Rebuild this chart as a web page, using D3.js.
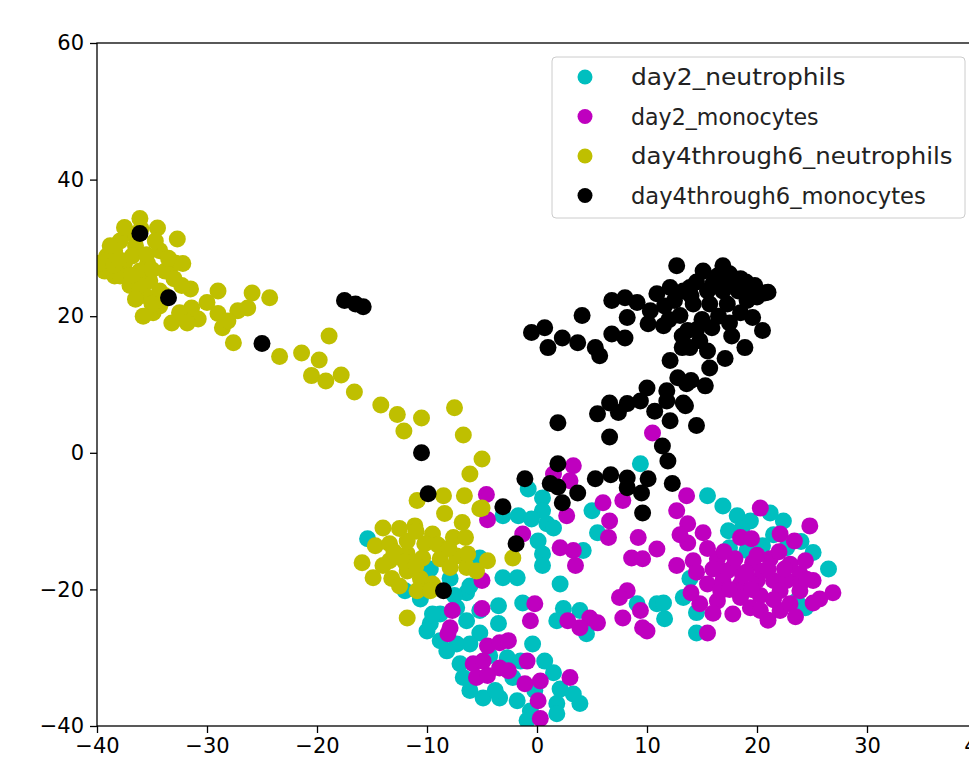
<!DOCTYPE html>
<html>
<head>
<meta charset="utf-8">
<script src="https://cdn.jsdelivr.net/npm/d3@7"></script>
<style>
  body { margin: 0; background: #fff; }
  text { font-family: "DejaVu Sans", sans-serif; }
</style>
</head>
<body>
<div id="chart"></div>
<script>
// series names, in legend / drawing order
const categories = ["day2_neutrophils", "day2_monocytes", "day4through6_neutrophils", "day4through6_monocytes"];

const xTicks = [-40, -30, -20, -10, 0, 10, 20, 30, 40];
const yTicks = [-40, -20, 0, 20, 40, 60];

// [x, y] points
const day2Neutrophils = [
  [-15.4,-12.6],[-9.7,-17.0],[-7.9,-18.4],[-5.2,-15.4],[-3.1,-18.3],[-10.6,-21.4],[-6.4,-20.5],[-3.5,-22.4],
  [-5.2,-23.1],[-7.3,-22.7],[-9.7,-25.0],[-8.8,-23.6],[-3.1,-9.2],[9.4,-1.6],[-0.8,-5.3],[0.5,-6.6],
  [0.5,-8.5],[-1.7,-9.2],[-0.5,-9.7],[0.9,-10.4],[1.5,-11.0],[0.1,-12.9],[0.5,-14.8],[0.5,-16.5],
  [5.0,-8.5],[5.5,-11.7],[4.2,-14.3],[2.1,-19.2],[-1.8,-18.3],[-1.3,-22.0],[-3.5,-25.0],[2.4,-22.8],
  [3.9,-23.1],[9.1,-22.1],[10.9,-22.1],[15.5,-6.3],[16.9,-7.8],[18.2,-9.2],[19.4,-10.0],[21.2,-8.8],
  [22.4,-10.0],[17.4,-11.4],[17.5,-13.9],[19.1,-14.3],[20.5,-13.6],[22.7,-13.9],[25.1,-14.6],[26.5,-17.0],
  [13.9,-18.4],[13.3,-21.2],[11.5,-22.0],[11.6,-24.3],[14.5,-23.4],[24.4,-22.7],[14.5,-26.4],[23.6,-21.7],
  [-9.5,-23.6],[-10.0,-26.1],[-6.4,-24.6],[-5.2,-26.4],[-8.8,-27.5],[-7.3,-28.0],[-6.1,-28.0],[-7.0,-30.9],
  [-6.7,-32.9],[-4.9,-35.9],[-3.4,-35.9],[-2.7,-30.0],[-2.2,-32.9],[-1.8,-36.3],[-0.6,-37.8],[-0.4,-28.0],
  [1.5,-32.2],[2.1,-34.6],[3.3,-35.3],[3.9,-36.7],[1.8,-36.7],[-0.9,-39.2],[1.8,-38.2],[4.5,-26.5],
  [1.8,-24.6],[-12.0,-20.2],[-7.5,-20.9],[-6.1,-19.5],[-8.2,-29.0],[-4.3,-29.7],[-1.5,-30.5],[0.7,-30.5],
  [-0.2,-34.8],[-3.8,-34.8],[-6.1,-34.8],[18.6,-11.2],[21.5,-12.0],[24.0,-13.0]
];

const day2Monocytes = [
  [-4.6,-6.1],[-4.5,-9.8],[-5.0,-18.7],[-7.7,-23.1],[-5.0,-22.8],[-7.9,-25.6],[3.3,-1.9],[3.0,-4.1],
  [1.5,-3.1],[2.7,-9.2],[6.0,-7.3],[7.8,-7.0],[6.6,-10.0],[6.5,-12.4],[9.2,-12.4],[-1.3,-11.9],
  [2.1,-13.9],[3.3,-14.3],[3.5,-16.5],[8.6,-15.4],[9.6,-15.5],[10.9,-14.1],[8.2,-20.2],[7.5,-21.2],
  [-0.2,-22.1],[-0.6,-24.6],[2.8,-24.6],[4.8,-24.2],[5.5,-24.9],[7.8,-24.2],[9.6,-25.6],[10.5,2.9],
  [13.6,-6.3],[12.7,-8.5],[13.7,-10.4],[15.1,-11.7],[13.7,-13.2],[20.3,-8.1],[18.5,-12.4],[19.5,-12.6],
  [22.1,-11.9],[24.8,-10.7],[12.7,-16.5],[14.2,-15.8],[16.4,-15.5],[17.8,-16.8],[19.6,-16.1],[21.2,-15.5],
  [23.0,-16.3],[23.9,-17.7],[15.5,-19.2],[16.9,-18.7],[18.5,-19.2],[20.0,-18.7],[21.5,-18.7],[22.7,-18.7],
  [25.1,-18.7],[26.9,-20.5],[25.7,-21.4],[14.8,-22.1],[16.4,-21.7],[17.8,-23.6],[19.4,-22.7],[20.3,-23.1],
  [22.1,-23.1],[23.0,-22.1],[25.1,-22.0],[15.5,-26.4],[10.0,-26.1],[9.4,-23.1],[17.3,-17.3],[18.7,-18.0],
  [20.5,-17.3],[22.1,-20.2],[20.3,-20.9],[18.5,-21.2],[16.7,-20.2],[23.9,-20.2],[23.4,-12.9],[24.4,-15.8],
  [-8.1,-26.5],[-4.5,-28.3],[-3.4,-27.8],[-2.6,-27.5],[-5.8,-30.9],[-4.9,-30.5],[-3.4,-31.5],[-2.6,-31.9],
  [-5.5,-32.9],[-4.5,-32.6],[-0.9,-30.5],[-1.1,-33.8],[0.3,-33.4],[3.0,-32.9],[0.1,-36.3],[0.3,-38.9],
  [3.9,-25.6],[14.5,-17.5],[16.0,-17.0],[19.0,-17.5],[21.0,-17.0],[22.5,-17.0],[24.0,-19.0],[17.5,-20.0],
  [19.5,-20.0],[21.5,-21.5],[24.5,-18.5],[15.5,-14.0],[17.0,-14.5],[14.0,-20.5],[16.0,-23.5],[13.0,-12.0],
  [21.0,-24.5],[23.5,-24.0],[18.0,-15.5],[20.0,-15.0],[22.0,-14.5]
];

const day4through6Neutrophils = [
  [-36.1,34.3],[-34.5,32.9],[-32.7,31.3],[-32.2,27.7],[-32.9,27.8],[-39.1,28.8],[-39.3,26.6],[-37.2,32.2],
  [-35.4,27.7],[-31.5,24.0],[-32.3,24.5],[-29.0,23.7],[-25.9,23.4],[-24.3,22.7],[-34.9,20.5],[-33.2,19.0],
  [-31.4,21.2],[-30.8,19.6],[-29.0,20.4],[-28.6,18.3],[-27.6,16.1],[-27.2,20.8],[-26.3,21.2],[-28.1,19.3],
  [-23.4,14.1],[-21.4,14.6],[-39.7,27.8],[-38.4,29.6],[-37.9,31.0],[-36.5,30.3],[-37.5,27.8],[-36.1,26.6],
  [-38.4,25.9],[-37.0,24.5],[-35.2,25.2],[-34.3,29.6],[-33.8,26.6],[-35.6,23.0],[-33.8,23.0],[-34.3,21.5],
  [-36.1,24.5],[-34.7,31.0],[-38.8,30.3],[-37.9,25.9],[-34.3,23.7],
  [-38.5,27.5],[-36.8,28.8],[-35.5,29.0],[-36.9,26.0],[-35.0,26.8],[-33.5,28.5],[-38.0,28.3],[-36.5,22.5],
  [-35.0,21.8],[-32.5,20.5],[-30.0,22.0],[-36.0,32.8],[-37.5,33.0],[-33.0,25.5],[-35.8,20.0],[-31.8,19.0],
  [-18.9,17.1],[-19.8,13.6],[-20.5,11.3],[-19.2,10.5],[-17.8,11.4],[-16.6,8.9],[-14.2,7.0],[-12.7,5.6],
  [-12.1,3.2],[-10.5,5.1],[-7.5,6.6],[-6.7,2.6],[-5.0,-0.9],[-6.1,-3.1],
  [-10.9,-7.0],[-8.5,-6.3],[-6.6,-6.3],[-5.2,-8.2],[-8.4,-8.9],[-6.8,-10.2],[-14.0,-11.0],[-12.5,-11.1],
  [-11.1,-10.7],[-9.5,-11.9],[-7.6,-12.4],[-6.5,-12.4],[-15.9,-16.1],[-14.7,-13.6],[-14.9,-18.3],[-13.2,-18.4],
  [-11.8,-17.3],[-10.6,-18.4],[-9.5,-19.2],[-8.8,-15.5],[-7.3,-15.1],[-6.4,-16.8],[-5.5,-17.3],[-4.5,-15.8],
  [-6.3,-14.8],[-13.4,-15.8],[-11.8,-14.8],[-10.4,-15.4],[-10.2,-13.3],[-11.8,-12.9],[-13.4,-13.3],[-7.9,-16.8],
  [-10.9,-20.2],[-9.7,-20.2],[-11.8,-24.2],[-5.0,-8.1],[-2.2,-15.4],
  [-13.0,-14.5],[-12.0,-16.0],[-14.0,-16.5],[-12.5,-19.5],[-11.0,-11.5],[-9.0,-13.5],[-8.0,-14.0],[-11.0,-16.5]
];

const day4through6Monocytes = [
  [-36.1,32.1],[-33.5,22.7],[-25.0,16.0],[-17.5,22.3],[-16.5,21.8],[-15.8,21.4],[-10.5,0.0],[-9.9,-6.0],
  [-8.5,-20.2],[-3.1,-7.9],[-1.9,-13.3],[-1.1,-3.8],[1.9,-1.6],[1.2,-4.5],[1.9,-5.0],[3.7,-5.9],
  [2.3,-7.3],[5.3,-3.8],[6.7,-3.2],[8.2,-3.7],[10.1,-3.8],[9.5,-5.9],[8.2,-5.1],[9.6,-8.8],
  [6.6,2.3],[11.4,1.0],[11.9,-1.2],[12.3,-4.5],[1.9,4.4],
  [12.7,27.4],[6.8,22.3],[8.0,22.7],[9.1,22.0],[10.9,23.3],[12.1,24.2],[13.3,23.7],[8.2,19.8],
  [10.1,18.9],[11.5,18.6],[4.1,20.1],[-0.5,17.6],[0.7,18.3],[1.0,15.4],[2.3,16.8],[3.7,16.1],
  [5.3,15.4],[5.7,14.2],[6.8,17.4],[8.0,16.8],[13.2,17.1],[12.1,13.5],[13.2,15.4],[12.8,11.0],
  [13.6,10.1],[10.0,9.5],[11.8,9.1],[6.6,7.3],[8.2,7.2],[9.4,7.6],[5.5,5.7],[7.4,5.9],
  [10.7,6.1],[11.8,7.6],[12.1,4.7],[13.3,7.3],[10.3,20.8],[11.6,21.5],[13.0,20.1],[12.5,22.3],
  [15.1,26.6],[16.4,25.9],[18.5,25.5],[20.7,23.4],[13.9,24.2],[15.5,23.7],[16.9,23.7],[18.3,23.7],
  [19.4,23.4],[14.2,21.8],[15.7,21.8],[17.3,21.8],[19.1,22.3],[19.6,19.8],[20.5,17.9],[17.7,17.1],
  [18.9,15.4],[15.9,18.3],[13.7,17.9],[14.8,16.4],[13.9,15.4],[15.5,14.9],[17.1,13.8],[15.7,12.4],
  [14.0,10.6],[15.3,9.8],[13.5,6.9],[14.5,4.0],[16.9,27.4],[17.5,24.7],[19.8,24.5],
  [14.5,25.0],[16.0,24.8],[17.5,26.2],[19.0,25.0],[20.0,22.8],[21.0,23.5],[14.0,23.0],[18.5,20.5],
  [16.5,20.0],[15.0,19.5],[17.5,19.0],[12.0,19.5],[14.5,18.0]
];

const seriesData = [day2Neutrophils, day2Monocytes, day4through6Neutrophils, day4through6Monocytes];

const width = 969, height = 766;
const plot = { left: 97, top: 43, right: 977, bottom: 726 };

const x = d3.scaleLinear().domain([-40, 40]).range([plot.left, plot.right]);
const y = d3.scaleLinear().domain([-40, 60]).range([plot.bottom, plot.top]);
const color = d3.scaleOrdinal()
  .domain(categories)
  .range(["#00bfbf", "#bf00bf", "#bfbf00", "#000000"]);

const fmt = d => d < 0 ? "\u2212" + Math.abs(d) : String(d);

const svg = d3.select("#chart").append("svg")
  .attr("width", width)
  .attr("height", height);

svg.append("clipPath").attr("id", "plot-clip")
  .append("rect")
  .attr("x", plot.left).attr("y", plot.top)
  .attr("width", plot.right - plot.left)
  .attr("height", plot.bottom - plot.top);

// points, one group per series
const pts = svg.append("g").attr("clip-path", "url(#plot-clip)");
categories.forEach((name, i) => {
  pts.append("g")
    .attr("class", "series")
    .selectAll("circle")
    .data(seriesData[i])
    .join("circle")
    .attr("cx", d => x(d[0]))
    .attr("cy", d => y(d[1]))
    .attr("r", 8.5)
    .attr("fill", color(name));
});

// axes
const xAxis = d3.axisBottom(x).tickValues(xTicks).tickSize(7).tickPadding(5).tickFormat(fmt);
const yAxis = d3.axisLeft(y).tickValues(yTicks).tickSize(7).tickPadding(6).tickFormat(fmt);

const gx = svg.append("g")
  .attr("transform", `translate(0,${plot.bottom})`)
  .call(xAxis);
const gy = svg.append("g")
  .attr("transform", `translate(${plot.left},0)`)
  .call(yAxis);

[gx, gy].forEach(g => {
  g.select(".domain").remove();
  g.selectAll("line").attr("stroke", "#000").attr("stroke-width", 1.3);
  g.selectAll("text")
    .attr("fill", "#000")
    .style("font-size", "21px");
});

// frame
svg.append("rect")
  .attr("x", plot.left).attr("y", plot.top)
  .attr("width", plot.right - plot.left)
  .attr("height", plot.bottom - plot.top)
  .attr("fill", "none")
  .attr("stroke", "#000")
  .attr("stroke-width", 1.3);

// legend
const legend = svg.append("g").attr("transform", "translate(552,57)");
legend.append("rect")
  .attr("width", 413).attr("height", 161)
  .attr("rx", 4)
  .attr("fill", "#fff").attr("fill-opacity", 0.8)
  .attr("stroke", "#ccc");

const rows = legend.selectAll(".row")
  .data(categories)
  .join("g")
  .attr("class", "row")
  .attr("transform", (d, i) => `translate(0,${20 + i * 39.5})`);

rows.append("circle")
  .attr("cx", 33).attr("cy", 0).attr("r", 7.5)
  .attr("fill", d => color(d));

rows.append("text")
  .attr("x", 79).attr("y", 0)
  .attr("dy", "0.35em")
  .style("font-size", "23px")
  .attr("textLength", d => d.length * 13.4)
  .attr("lengthAdjust", "spacingAndGlyphs")
  .attr("fill", "#222")
  .text(d => d);
</script>
</body>
</html>
